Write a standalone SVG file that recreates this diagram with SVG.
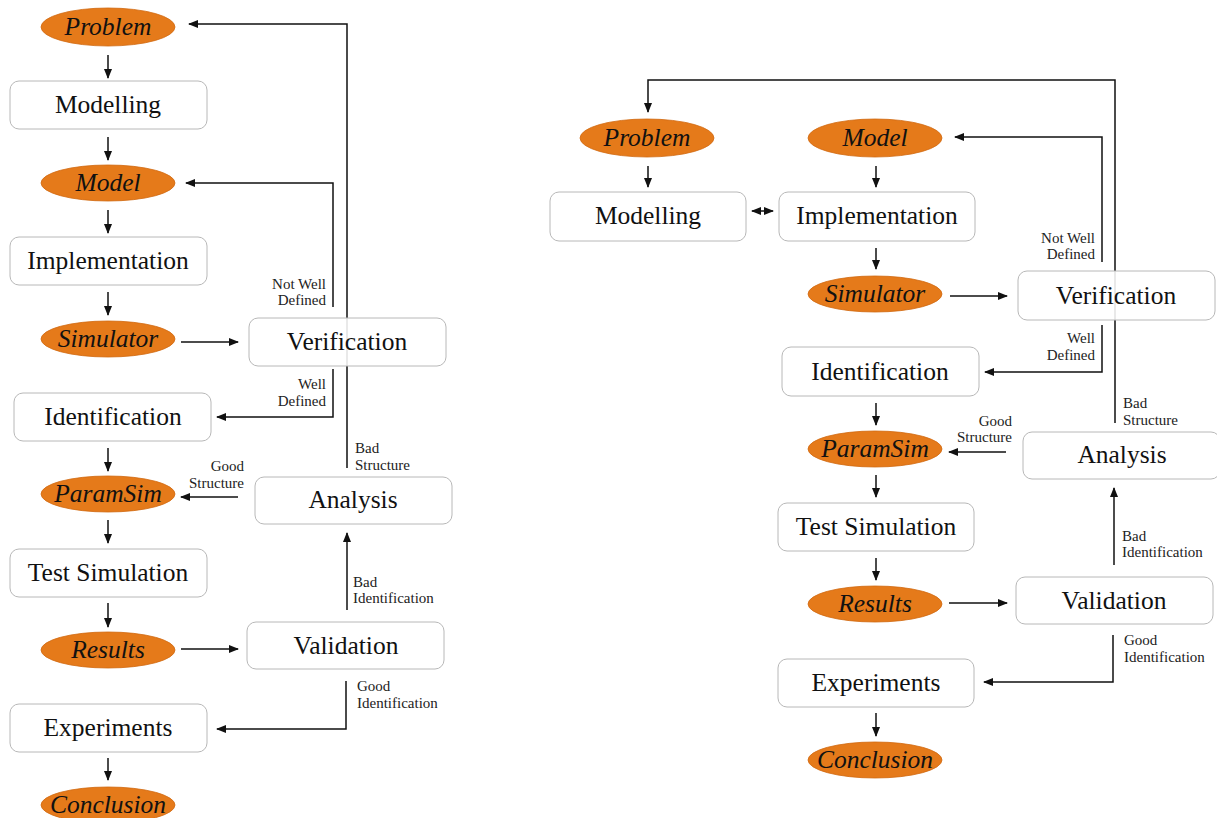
<svg xmlns="http://www.w3.org/2000/svg" width="1217" height="818" viewBox="0 0 1217 818">
<defs>
<marker id="ah" markerUnits="userSpaceOnUse" markerWidth="10" markerHeight="8" refX="9" refY="4" orient="auto-start-reverse"><path d="M0,0 L10,4 L0,8 z" fill="#111"/></marker>
<style>
.c{fill:none;stroke:#111;stroke-width:1.5}
.a{marker-end:url(#ah)}
.box{fill:#fff;fill-opacity:0.88;stroke:#b8b8b8;stroke-width:1}
.ell{fill:#E57A1A;stroke:#d06a12;stroke-width:0.8}
.bt{font-family:"Liberation Serif",serif;font-size:25.5px;fill:#111;text-anchor:middle}
.et{font-family:"Liberation Serif",serif;font-size:25.5px;font-style:italic;fill:#111;text-anchor:middle}
.lb{font-family:"Liberation Serif",serif;font-size:15px;fill:#222}
.r{text-anchor:end}
</style>
</defs>
<rect width="1217" height="818" fill="#fff"/>
<g id="connectors">
<path class="c a" d="M108,55 V78"/>
<path class="c a" d="M108,137 V160"/>
<path class="c a" d="M108,210 V233"/>
<path class="c a" d="M108,292 V315"/>
<path class="c a" d="M108,448 V471"/>
<path class="c a" d="M108,520 V543"/>
<path class="c a" d="M108,603 V627"/>
<path class="c a" d="M108,758 V780"/>
<path class="c a" d="M181,342 H238"/>
<path class="c a" d="M181,649 H238"/>
<path class="c a" d="M333,307 V183 H186"/>
<path class="c a" d="M347,468 V24 H189"/>
<path class="c a" d="M333,369 V417 H217"/>
<path class="c a" d="M238,497 H181"/>
<path class="c a" d="M347,610 V533"/>
<path class="c a" d="M346,681 V729 H217"/>
<path class="c a" d="M648,166 V187"/>
<path class="c a" d="M876,166 V187"/>
<path class="c a" d="M752,211 H773" marker-start="url(#ah)"/>
<path class="c a" d="M876,248 V269"/>
<path class="c a" d="M950,296 H1007"/>
<path class="c a" d="M1115,423 V80 H648 V112"/>
<path class="c a" d="M1102,262 V137 H955"/>
<path class="c a" d="M1102,325 V372 H985"/>
<path class="c a" d="M876,403 V425"/>
<path class="c a" d="M1006,452 H949"/>
<path class="c a" d="M876,475 V497"/>
<path class="c a" d="M876,558 V580"/>
<path class="c a" d="M1114,565 V488"/>
<path class="c a" d="M949,603 H1007"/>
<path class="c a" d="M1113,635 V682 H984"/>
<path class="c a" d="M876,713 V736"/>
<text class="lb r" x="326" y="289">Not Well</text>
<text class="lb r" x="326" y="305">Defined</text>
<text class="lb r" x="326" y="389">Well</text>
<text class="lb r" x="326" y="406">Defined</text>
<text class="lb" x="355" y="453">Bad</text>
<text class="lb" x="355" y="470">Structure</text>
<text class="lb r" x="244" y="471">Good</text>
<text class="lb r" x="244" y="488">Structure</text>
<text class="lb" x="353" y="587">Bad</text>
<text class="lb" x="353" y="603">Identification</text>
<text class="lb" x="357" y="691">Good</text>
<text class="lb" x="357" y="708">Identification</text>
<text class="lb r" x="1095" y="243">Not Well</text>
<text class="lb r" x="1095" y="259">Defined</text>
<text class="lb r" x="1095" y="343">Well</text>
<text class="lb r" x="1095" y="360">Defined</text>
<text class="lb" x="1123" y="408">Bad</text>
<text class="lb" x="1123" y="425">Structure</text>
<text class="lb r" x="1012" y="426">Good</text>
<text class="lb r" x="1012" y="442">Structure</text>
<text class="lb" x="1122" y="541">Bad</text>
<text class="lb" x="1122" y="557">Identification</text>
<text class="lb" x="1124" y="645">Good</text>
<text class="lb" x="1124" y="662">Identification</text>
</g>
<g id="L-problem"><ellipse class="ell" cx="108" cy="27" rx="67" ry="19"/><text class="et" x="108" y="35">Problem</text></g>
<g id="L-modelling"><rect class="box" x="10" y="81" width="197" height="48" rx="9"/><text class="bt" x="108" y="113">Modelling</text></g>
<g id="L-model"><ellipse class="ell" cx="108" cy="183" rx="67" ry="18"/><text class="et" x="108" y="191">Model</text></g>
<g id="L-implementation"><rect class="box" x="10" y="237" width="197" height="48" rx="9"/><text class="bt" x="108" y="269">Implementation</text></g>
<g id="L-simulator"><ellipse class="ell" cx="108" cy="339" rx="67" ry="18"/><text class="et" x="108" y="347">Simulator</text></g>
<g id="L-verification"><rect class="box" x="249" y="318" width="197" height="48" rx="9"/><text class="bt" x="347" y="350">Verification</text></g>
<g id="L-identification"><rect class="box" x="14" y="393" width="197" height="48" rx="9"/><text class="bt" x="113" y="425">Identification</text></g>
<g id="L-paramsim"><ellipse class="ell" cx="108" cy="494" rx="67" ry="18"/><text class="et" x="108" y="502">ParamSim</text></g>
<g id="L-analysis"><rect class="box" x="255" y="477" width="197" height="47" rx="9"/><text class="bt" x="353" y="508">Analysis</text></g>
<g id="L-testsim"><rect class="box" x="10" y="549" width="197" height="48" rx="9"/><text class="bt" x="108" y="581">Test Simulation</text></g>
<g id="L-results"><ellipse class="ell" cx="108" cy="650" rx="67" ry="18"/><text class="et" x="108" y="658">Results</text></g>
<g id="L-validation"><rect class="box" x="247" y="622" width="197" height="47" rx="9"/><text class="bt" x="346" y="654">Validation</text></g>
<g id="L-experiments"><rect class="box" x="10" y="704" width="197" height="48" rx="9"/><text class="bt" x="108" y="736">Experiments</text></g>
<g id="L-conclusion"><ellipse class="ell" cx="108" cy="805" rx="67" ry="18"/><text class="et" x="108" y="813">Conclusion</text></g>
<g id="R-problem"><ellipse class="ell" cx="647" cy="138" rx="67" ry="19"/><text class="et" x="647" y="146">Problem</text></g>
<g id="R-model"><ellipse class="ell" cx="875" cy="138" rx="67" ry="19"/><text class="et" x="875" y="146">Model</text></g>
<g id="R-modelling"><rect class="box" x="550" y="192" width="196" height="49" rx="9"/><text class="bt" x="648" y="224">Modelling</text></g>
<g id="R-implementation"><rect class="box" x="779" y="192" width="196" height="49" rx="9"/><text class="bt" x="877" y="224">Implementation</text></g>
<g id="R-simulator"><ellipse class="ell" cx="875" cy="294" rx="67" ry="18"/><text class="et" x="875" y="302">Simulator</text></g>
<g id="R-verification"><rect class="box" x="1018" y="271" width="197" height="49" rx="9"/><text class="bt" x="1116" y="304">Verification</text></g>
<g id="R-identification"><rect class="box" x="782" y="347" width="197" height="49" rx="9"/><text class="bt" x="880" y="380">Identification</text></g>
<g id="R-paramsim"><ellipse class="ell" cx="875" cy="449" rx="67" ry="18"/><text class="et" x="875" y="457">ParamSim</text></g>
<g id="R-analysis"><rect class="box" x="1023" y="432" width="197" height="47" rx="9"/><text class="bt" x="1122" y="463">Analysis</text></g>
<g id="R-testsim"><rect class="box" x="778" y="503" width="196" height="48" rx="9"/><text class="bt" x="876" y="535">Test Simulation</text></g>
<g id="R-results"><ellipse class="ell" cx="875" cy="604" rx="67" ry="18"/><text class="et" x="875" y="612">Results</text></g>
<g id="R-validation"><rect class="box" x="1016" y="577" width="197" height="47" rx="9"/><text class="bt" x="1114" y="609">Validation</text></g>
<g id="R-experiments"><rect class="box" x="778" y="659" width="196" height="48" rx="9"/><text class="bt" x="876" y="691">Experiments</text></g>
<g id="R-conclusion"><ellipse class="ell" cx="875" cy="760" rx="67" ry="18"/><text class="et" x="875" y="768">Conclusion</text></g>
</svg>
